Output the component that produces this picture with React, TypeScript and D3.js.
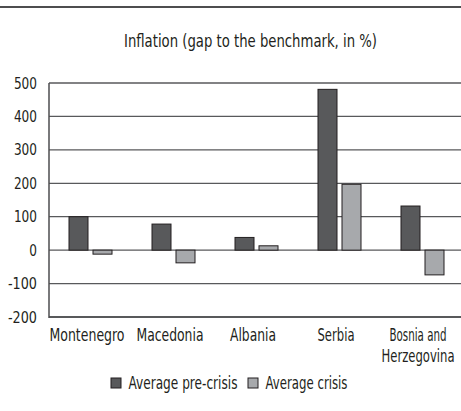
import { useEffect, useRef } from "react";
import * as d3 from "d3";

const countries = ["Montenegro", "Macedonia", "Albania", "Serbia", "Bosnia and Herzegovina"];
const preCrisis = [100, 78, 38, 481, 132];
const crisis = [-12, -38, 13, 197, -74];
const yTicks = [-200, -100, 0, 100, 200, 300, 400, 500];
const seriesNames = ["Average pre-crisis", "Average crisis"];
const seriesColors = ["#58595b", "#a7a9ac"];

// rendered widths of the condensed typeface in the original, px
const textWidths: Record<string, number> = {
  "Inflation (gap to the benchmark, in %)": 253,
  "Montenegro": 75,
  "Macedonia": 67,
  "Albania": 46,
  "Serbia": 37,
  "Bosnia and": 57,
  "Herzegovina": 73,
  "Average pre-crisis": 109,
  "Average crisis": 82,
};

export default function App() {
  const svgRef = useRef<SVGSVGElement>(null);

  useEffect(() => {
    const svg = d3.select(svgRef.current);
    svg.selectAll("*").remove();

    const font = "'DejaVu Sans Condensed', 'DejaVu Sans', sans-serif";
    const left = 49, right = 461, top = 83, bottom = 317;
    const ink = "#231f20";

    const narrow = (sel: any, size: number, width: number) => {
      sel.style("font-family", font).style("font-size", size + "px").attr("fill", ink)
        .attr("textLength", width).attr("lengthAdjust", "spacingAndGlyphs");
      return sel;
    };

    // rule at the very top
    svg.append("line")
      .attr("x1", 0).attr("x2", 461).attr("y1", 7).attr("y2", 7)
      .attr("stroke", "#4d4d4f").attr("stroke-width", 2);

    const titleText = "Inflation (gap to the benchmark, in %)";
    const title = svg.append("text")
      .attr("x", 250.5).attr("y", 47)
      .attr("text-anchor", "middle")
      .text(titleText);
    narrow(title, 18, textWidths[titleText]);

    const x = d3.scaleBand().domain(countries).range([left, 464]);
    const y = d3.scaleLinear().domain([-200, 500]).range([bottom, top]);
    const barW = 19, gap = 5;

    // gridlines
    svg.append("g").selectAll("line")
      .data(yTicks)
      .enter()
      .append("line")
      .attr("x1", left).attr("x2", right)
      .attr("y1", d => y(d)).attr("y2", d => y(d))
      .attr("stroke", "#58595b")
      .attr("stroke-width", d => (d === -200 ? 2 : 1.3));

    svg.append("line")
      .attr("x1", left).attr("x2", left).attr("y1", top).attr("y2", bottom + 1)
      .attr("stroke", "#4d4d4f").attr("stroke-width", 1.5);

    yTicks.forEach(t => {
      const s = String(t);
      const w = s.length * 7.7 - (t < 0 ? 1.8 : 0);
      const tx = svg.append("text")
        .attr("x", 37).attr("y", y(t) + 5.5)
        .attr("text-anchor", "end")
        .text(s);
      narrow(tx, 16, w);
    });

    [preCrisis, crisis].forEach((vals, s) => {
      svg.append("g").selectAll("rect")
        .data(vals)
        .enter()
        .append("rect")
        .attr("x", (d, i) => x(countries[i])! + x.bandwidth() / 2 - barW - gap / 2 + s * (barW + gap))
        .attr("y", d => y(Math.max(0, d)))
        .attr("width", barW)
        .attr("height", d => Math.abs(y(d) - y(0)))
        .attr("fill", seriesColors[s])
        .attr("stroke", ink)
        .attr("stroke-width", 1);
    });

    // category labels (the two-line one is right-anchored so it stays in the frame)
    countries.forEach(c => {
      const lines = c === "Bosnia and Herzegovina" ? ["Bosnia and", "Herzegovina"] : [c];
      lines.forEach((l, j) => {
        const cx = x(c)! + x.bandwidth() / 2 - (lines.length > 1 ? 4.5 : 3.5);
        const multi = lines.length > 1;
        const t = svg.append("text")
          .attr("x", multi ? cx + textWidths[l] / 2 : cx)
          .attr("y", 341 + j * 21)
          .attr("text-anchor", multi ? "end" : "middle")
          .text(l);
        narrow(t, 17, textWidths[l]);
      });
    });

    // legend
    const lx = [111, 248];
    seriesNames.forEach((n, i) => {
      svg.append("rect")
        .attr("x", lx[i]).attr("y", 378).attr("width", 10).attr("height", 10)
        .attr("fill", seriesColors[i]).attr("stroke", ink).attr("stroke-width", 1);
      const t = svg.append("text")
        .attr("x", lx[i] + 17.5).attr("y", 389)
        .text(n);
      narrow(t, 17, textWidths[n]);
    });
  }, []);

  return (
    <svg
      ref={svgRef}
      width={461}
      height={411}
      style={{ position: "absolute", left: 0, top: 0, background: "#fff" }}
    ></svg>
  );
}
